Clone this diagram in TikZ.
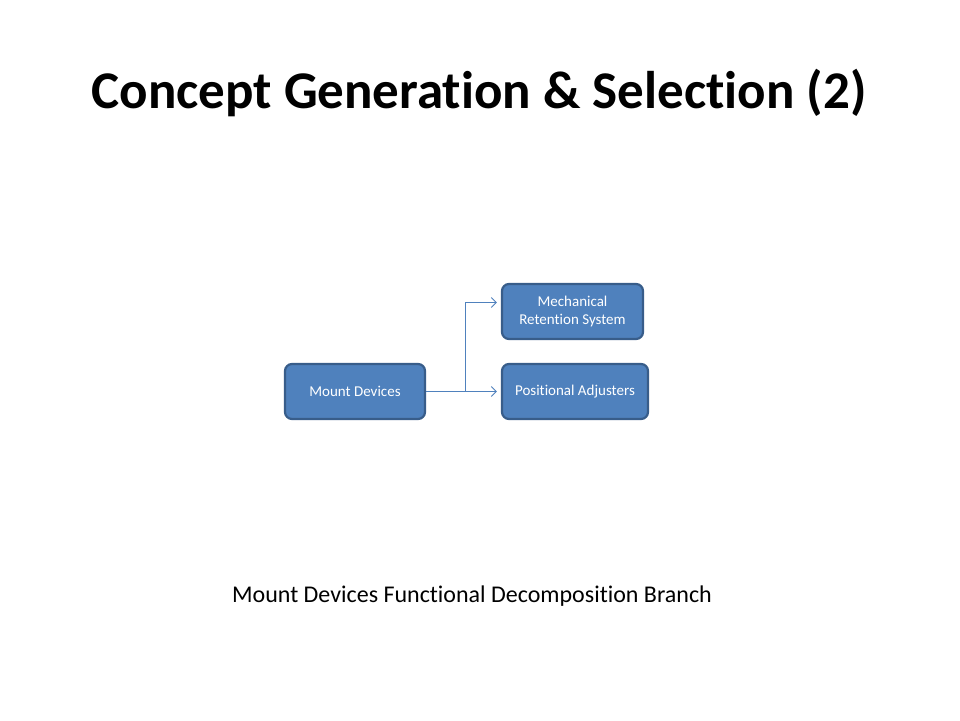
\documentclass[tikz,border=0pt]{standalone}
\usepackage{fontspec}
\setmainfont{Carlito}[Ligatures=NoCommon]
\usetikzlibrary{calc,positioning,arrows.meta}
\definecolor{boxfill}{HTML}{4F81BD}
\definecolor{boxline}{HTML}{385D8A}
\begin{document}
\begin{tikzpicture}[x=1pt,y=1pt,
    func/.style={rectangle, rounded corners=7pt, draw=boxline, line width=2.2pt,
            fill=boxfill, text=white, font=\fontsize{15}{18}\selectfont,
            minimum height=55pt, align=center, inner sep=2pt},
    link/.style={draw=boxfill, line width=0.9pt, -{Straight Barb[length=5pt,width=10pt]}, shorten >=4pt}]
        \useasboundingbox[fill=white] (0,0) rectangle (960,720);
        \node[font=\fontsize{53}{60}\bfseries] (T) at (479,627) {Concept Generation \& Selection (2)};
        \node[func,minimum width=140pt] (MD) at (355,328.5) {Mount Devices};
        \node[func,minimum width=141pt] (MRS) at (572.5,408.5) {Mechanical\\Retention System};
        \node[func,minimum width=146pt] (PA) at (575,328.5) {Positional Adjusters};
        \coordinate (F) at ($(MD.east)+(39,0)$);
        \coordinate (M) at ($(MRS.west)+(0,9)$);
        \draw[link] (MD.east) -- (PA.west);
        \draw[link] (F) |- (M);
        \node[font=\fontsize{24}{28}\selectfont] (C) at (472,124) {Mount Devices Functional Decomposition Branch};
\end{tikzpicture}
\end{document}
